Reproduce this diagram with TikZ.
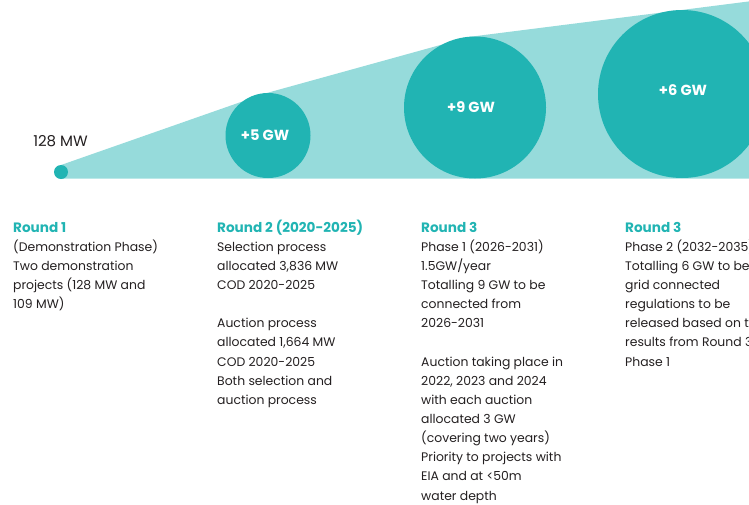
\documentclass[tikz,border=0pt]{standalone}
\usepackage{fontspec}
\setmainfont{Poppins}
\definecolor{tealdark}{RGB}{33,180,179}
\definecolor{teallight}{RGB}{150,219,219}
\definecolor{ink}{RGB}{35,31,32}
\newcommand{\hd}[1]{{\color{tealdark}\bfseries\fontsize{13.6}{19.15}\selectfont #1}}
\begin{document}
\begin{tikzpicture}[x=1pt,y=-1pt,
  bubble/.style={circle,fill=tealdark,inner sep=0pt,draw=none},
  bubbletext/.style={text=white,font=\bfseries\fontsize{14.6}{15}\selectfont,inner sep=0pt},
  infoblock/.style={anchor=base west,inner sep=0pt,text=ink,
    font=\fontsize{12.4}{19.15}\selectfont}]
\useasboundingbox (0,0) rectangle (749,504);
\clip (0,0) rectangle (749,504);
% light funnel
\fill[teallight] (61,165) -- (266,93.2) -- (470,36.8) -- (680,10.2) -- (760,0) -- (760,178.5) -- (61,178.5) -- cycle;
% bubbles
\node[bubble,minimum size=14pt] (r1) at (61,172) {};
\node[bubble,minimum size=85pt] (r2) at (268,135.5) {};
\node[bubble,minimum size=142pt] (r3) at (475,107.5) {};
\node[bubble,minimum size=168pt] (r4) at (682,94) {};
\node[bubbletext] (l2) at (265,135) {+5 GW};
\node[bubbletext] (l3) at (471,107) {+9 GW};
\node[bubbletext] (l4) at (683,90) {+6 GW};
\node[text=ink,font=\fontsize{15}{15}\selectfont,inner sep=0pt] (l1) at (60.5,141) {128 MW};
% text columns
\node[infoblock] (t1) at (13,232) {\begin{tabular}[t]{@{}l@{}}\hd{Round 1}\\(Demonstration Phase)\\Two demonstration\\projects (128 MW and\\109 MW)\end{tabular}};
\node[infoblock] (t2) at (217,232) {\begin{tabular}[t]{@{}l@{}}\hd{Round 2 (2020-2025)}\\Selection process\\allocated 3,836 MW\\COD 2020-2025\\[19.15pt]Auction process\\allocated 1,664 MW\\COD 2020-2025\\Both selection and\\auction process\end{tabular}};
\node[infoblock] (t3) at (421,232) {\begin{tabular}[t]{@{}l@{}}\hd{Round 3}\\Phase 1 (2026-2031)\\1.5GW/year\\Totalling 9 GW to be\\connected from\\2026-2031\\[19.15pt]Auction taking place in\\2022, 2023 and 2024\\with each auction\\allocated 3 GW\\(covering two years)\\Priority to projects with\\EIA and at <50m\\water depth\end{tabular}};
\node[infoblock] (t4) at (625,232) {\begin{tabular}[t]{@{}l@{}}\hd{Round 3}\\Phase 2 (2032-2035)\\Totalling 6 GW to be\\grid connected\\regulations to be\\released based on the\\results from Round 3\\Phase 1\end{tabular}};
\end{tikzpicture}
\end{document}
